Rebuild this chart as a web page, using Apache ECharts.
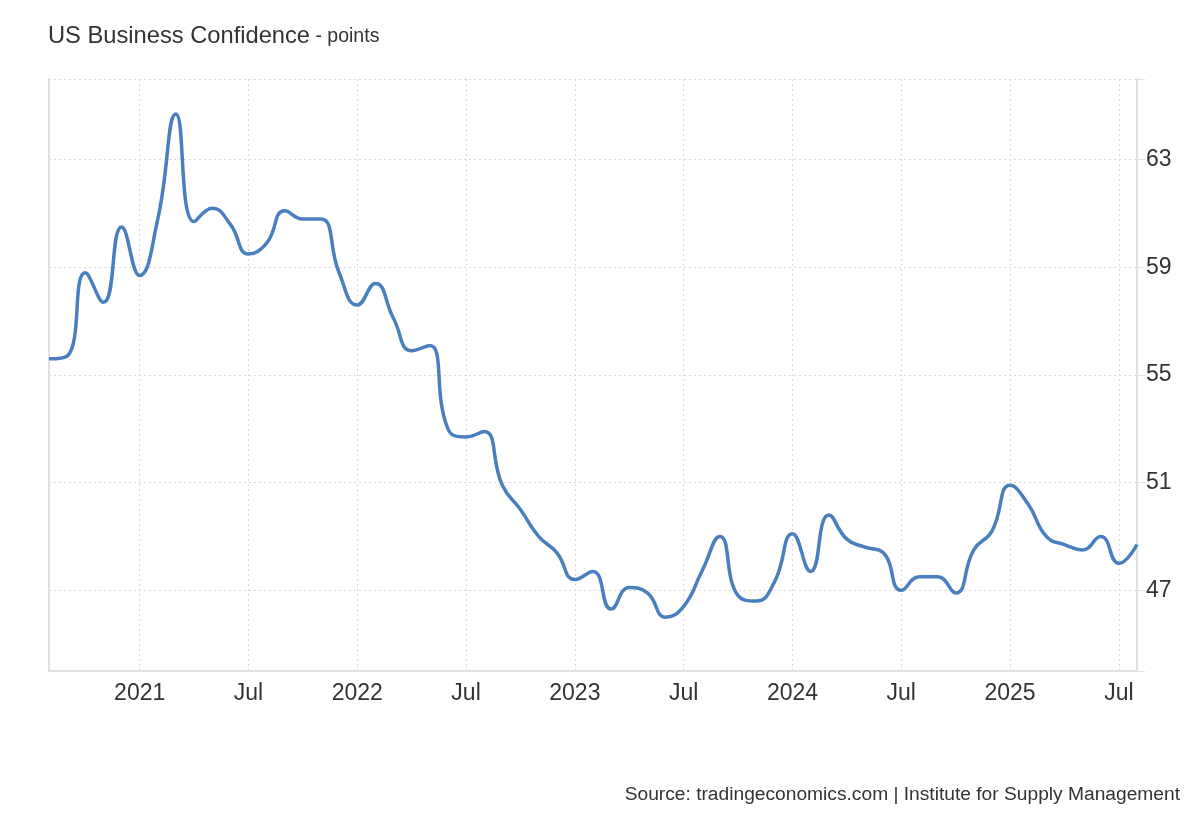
<!DOCTYPE html>
<html>
<head>
<meta charset="utf-8">
<script src="https://cdn.jsdelivr.net/npm/echarts@6/dist/echarts.min.js"></script>
<style>
html,body{margin:0;padding:0;background:#ffffff;}
#chart{width:1200px;height:820px;}
</style>
</head>
<body>
<div id="chart"></div>
<script>
// ---- data ----
const months = [
  '2020-08','2020-09','2020-10','2020-11','2020-12',
  '2021-01','2021-02','2021-03','2021-04','2021-05','2021-06','2021-07','2021-08','2021-09','2021-10','2021-11','2021-12',
  '2022-01','2022-02','2022-03','2022-04','2022-05','2022-06','2022-07','2022-08','2022-09','2022-10','2022-11','2022-12',
  '2023-01','2023-02','2023-03','2023-04','2023-05','2023-06','2023-07','2023-08','2023-09','2023-10','2023-11','2023-12',
  '2024-01','2024-02','2024-03','2024-04','2024-05','2024-06','2024-07','2024-08','2024-09','2024-10','2024-11','2024-12',
  '2025-01','2025-02','2025-03','2025-04','2025-05','2025-06','2025-07','2025-08'
];
const businessConfidence = [
  55.6, 55.7, 58.8, 57.7, 60.5,
  58.7, 60.8, 64.7, 60.7, 61.2, 60.6, 59.5, 59.9, 61.1, 60.8, 60.8, 58.8,
  57.6, 58.4, 57.1, 55.9, 56.1, 53.0, 52.7, 52.9, 50.9, 50.0, 49.0, 48.4,
  47.4, 47.7, 46.3, 47.1, 46.9, 46.0, 46.4, 47.7, 49.0, 46.8, 46.6, 47.3,
  49.1, 47.7, 49.8, 48.9, 48.6, 48.4, 47.0, 47.5, 47.5, 46.9, 48.5, 49.2,
  50.9, 50.2, 49.0, 48.7, 48.5, 49.0, 48.0, 48.7
];
const yTickLabels = [47, 51, 55, 59, 63];
const yGridLines = [44, 47, 51, 55, 59, 63, 66];
const yMin = 44;
const yMax = 66;
const xTickMonths = ['01', '07'];
const titleText = 'US Business Confidence';
const unitText = ' - points';
const sourceText = 'Source: tradingeconomics.com | Institute for Supply Management';

// ---- chart ----
const FONT = '"Liberation Sans", Arial, Helvetica, sans-serif';
const TEXT = '#333333';
const GRID = '#d9d9d9';
const AXIS = '#e0e0e0';

function isTick(value) {
  return xTickMonths.indexOf(String(value).slice(5, 7)) >= 0;
}
function xLabel(value) {
  const m = String(value).slice(5, 7);
  return m === '01' ? String(value).slice(0, 4) : 'Jul';
}

const chart = echarts.init(document.getElementById('chart'), null, {renderer: 'canvas'});
chart.setOption({
  animation: false,
  backgroundColor: '#ffffff',
  textStyle: {fontFamily: FONT},
  title: {
    text: '{a|' + titleText + '}{b|' + unitText + '}',
    left: 48,
    top: 22,
    padding: 0,
    textStyle: {
      fontWeight: 'normal',
      rich: {
        a: {fontSize: 23.7, fontWeight: 'normal', color: TEXT, fontFamily: FONT, verticalAlign: 'bottom', lineHeight: 26},
        b: {fontSize: 19.5, fontWeight: 'normal', color: TEXT, fontFamily: FONT, verticalAlign: 'bottom', lineHeight: 26, padding: [0, 0, 1, 0]}
      }
    }
  },
  graphic: [{
    type: 'text',
    right: 20,
    top: 785,
    style: {text: sourceText, font: '19.2px ' + FONT, fill: TEXT}
  }],
  grid: {left: 49, right: 63, top: 79, bottom: 149, containLabel: false},
  xAxis: {
    type: 'category',
    data: months,
    boundaryGap: false,
    axisLine: {show: true, lineStyle: {color: AXIS, width: 2}},
    axisTick: {show: false},
    axisLabel: {
      interval: function (i, v) { return isTick(v); },
      formatter: xLabel,
      color: TEXT,
      fontSize: 23,
      fontFamily: FONT,
      margin: 11
    },
    splitLine: {
      show: true,
      interval: function (i, v) { return isTick(v); },
      lineStyle: {color: GRID, type: [2, 3], width: 1}
    }
  },
  yAxis: [{
    type: 'value',
    position: 'right',
    min: yMin,
    max: yMax,
    axisLine: {show: true, lineStyle: {color: AXIS, width: 2}},
    axisTick: {show: true, customValues: yGridLines, length: 8, lineStyle: {color: AXIS, width: 1}},
    axisLabel: {customValues: yTickLabels, color: TEXT, fontSize: 23, fontFamily: FONT, margin: 9},
    splitLine: {show: true, customValues: yGridLines, lineStyle: {color: GRID, type: [2, 3], width: 1}}
  }, {
    type: 'value',
    position: 'left',
    min: yMin,
    max: yMax,
    axisLine: {show: true, lineStyle: {color: AXIS, width: 2}},
    axisTick: {show: false},
    axisLabel: {show: false},
    splitLine: {show: false}
  }],
  series: [{
    type: 'line',
    data: businessConfidence,
    yAxisIndex: 0,
    smooth: 0.5,
    symbol: 'none',
    lineStyle: {color: '#4a7fbf', width: 3.5},
    z: 5
  }]
});
</script>
</body>
</html>
